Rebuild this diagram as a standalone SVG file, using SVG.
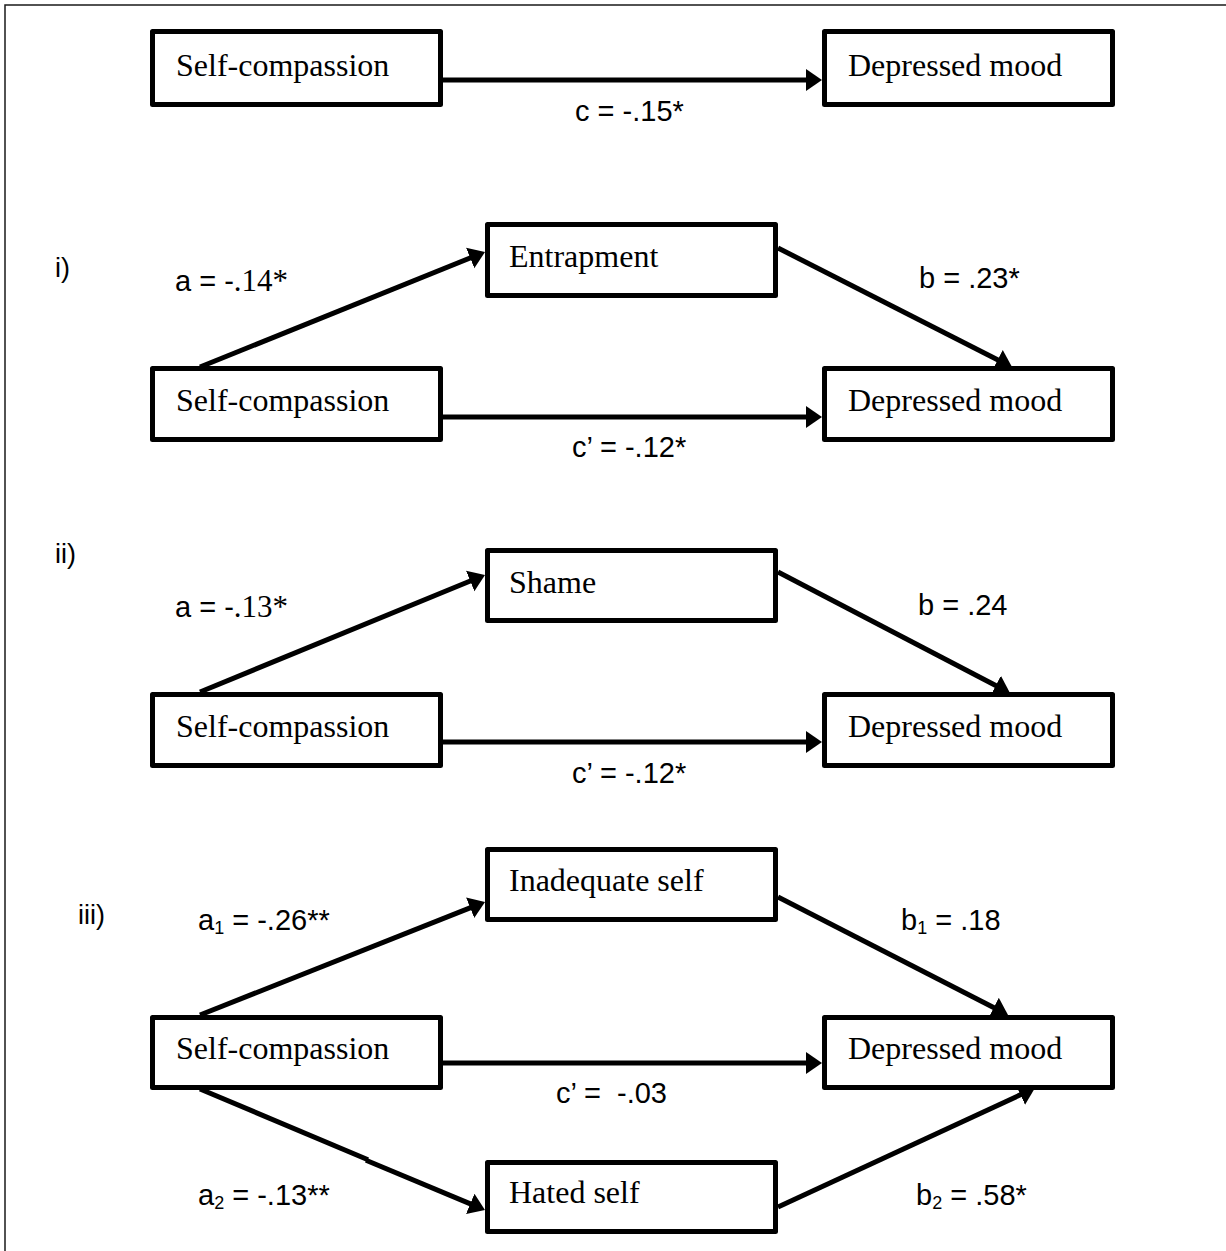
<svg xmlns="http://www.w3.org/2000/svg" width="1226" height="1251" viewBox="0 0 1226 1251">
  <style>
    .box { fill: #ffffff; stroke: #000000; stroke-width: 5; stroke-linejoin: round; }
    .name { font-family: "Liberation Serif", "Times New Roman", serif; font-size: 32px; fill: #000000; }
    .coef { font-family: "Liberation Sans", Arial, sans-serif; font-size: 29px; fill: #000000; }
    .serifnum { font-family: "Liberation Serif", "Times New Roman", serif; font-size: 31px; }
    .sub { font-size: 18px; }
    .panel { font-family: "Liberation Sans", Arial, sans-serif; font-size: 27px; fill: #000000; }
    .edge { stroke: #000000; stroke-width: 5; fill: none; marker-end: url(#head); }
    .plain { stroke: #000000; stroke-width: 5; fill: none; }
  </style>
  <defs>
    <marker id="head" markerUnits="userSpaceOnUse" markerWidth="20" markerHeight="26" refX="8" refY="12" orient="auto">
      <path d="M0,1 L16,12 L0,23 z" fill="#000000"/>
    </marker>
  </defs>

  <rect width="1226" height="1251" fill="#ffffff"/>
  <!-- outer frame -->
  <path d="M5,1251 V5 H1226" fill="none" stroke="#1a1a1a" stroke-width="1.5"/>

  <!-- connectors -->
  <g id="connectors">
    <!-- total effect -->
    <line class="edge" x1="443" y1="80" x2="814" y2="80"/>
    <!-- model i -->
    <line class="edge" x1="200" y1="367" x2="477.6" y2="255"/>
    <line class="edge" x1="778" y1="248" x2="1004.9" y2="363.4"/>
    <line class="edge" x1="443" y1="417" x2="814" y2="417"/>
    <!-- model ii -->
    <line class="edge" x1="200" y1="692" x2="477.6" y2="578"/>
    <line class="edge" x1="778" y1="572" x2="1002.9" y2="689.3"/>
    <line class="edge" x1="443" y1="742" x2="814" y2="742"/>
    <!-- model iii -->
    <line class="edge" x1="200" y1="1015" x2="477.6" y2="904.9"/>
    <line class="edge" x1="778" y1="897" x2="1000.9" y2="1011.3"/>
    <line class="edge" x1="443" y1="1063" x2="814" y2="1063"/>
    <line class="plain" x1="200" y1="1089" x2="368" y2="1159.7"/>
    <line class="edge" x1="366" y1="1160.3" x2="477.6" y2="1206.9"/>
    <line class="edge" x1="778" y1="1207" x2="1027.7" y2="1091.4"/>
  </g>

  <!-- total effect -->
  <g id="sc0"><rect class="box" x="152.5" y="31.5" width="288" height="73"/><text class="name" x="176" y="76">Self-compassion</text></g>
  <g id="dm0"><rect class="box" x="824.5" y="31.5" width="288" height="73"/><text class="name" x="848" y="76">Depressed mood</text></g>
  <text class="coef" x="575" y="121">c = -.15*</text>

  <!-- model i -->
  <text class="panel" x="55" y="277">i)</text>
  <g id="ent"><rect class="box" x="487.5" y="224.5" width="288" height="71"/><text class="name" x="509" y="267">Entrapment</text></g>
  <g id="sc1"><rect class="box" x="152.5" y="368.5" width="288" height="71"/><text class="name" x="176" y="411">Self-compassion</text></g>
  <g id="dm1"><rect class="box" x="824.5" y="368.5" width="288" height="71"/><text class="name" x="848" y="411">Depressed mood</text></g>
  <text class="coef" x="175" y="291">a = -<tspan class="serifnum">.14*</tspan></text>
  <text class="coef" x="919" y="288">b = .23*</text>
  <text class="coef" x="572" y="457">c’ = -.12*</text>

  <!-- model ii -->
  <text class="panel" x="55" y="563">ii)</text>
  <g id="shame"><rect class="box" x="487.5" y="550.5" width="288" height="70"/><text class="name" x="509" y="593">Shame</text></g>
  <g id="sc2"><rect class="box" x="152.5" y="694.5" width="288" height="71"/><text class="name" x="176" y="737">Self-compassion</text></g>
  <g id="dm2"><rect class="box" x="824.5" y="694.5" width="288" height="71"/><text class="name" x="848" y="737">Depressed mood</text></g>
  <text class="coef" x="175" y="617">a = -<tspan class="serifnum">.13*</tspan></text>
  <text class="coef" x="918" y="615">b = .24</text>
  <text class="coef" x="572" y="783">c’ = -.12*</text>

  <!-- model iii -->
  <text class="panel" x="78" y="924">iii)</text>
  <g id="inadequate"><rect class="box" x="487.5" y="849.5" width="288" height="70"/><text class="name" x="509" y="891">Inadequate self</text></g>
  <g id="sc3"><rect class="box" x="152.5" y="1017.5" width="288" height="70"/><text class="name" x="176" y="1059">Self-compassion</text></g>
  <g id="dm3"><rect class="box" x="824.5" y="1017.5" width="288" height="70"/><text class="name" x="848" y="1059">Depressed mood</text></g>
  <g id="hated"><rect class="box" x="487.5" y="1162.5" width="288" height="69"/><text class="name" x="509" y="1203">Hated self</text></g>
  <text class="coef" x="198" y="930">a<tspan class="sub" dy="4">1</tspan><tspan dy="-4"> = -.26**</tspan></text>
  <text class="coef" x="901" y="930">b<tspan class="sub" dy="4">1</tspan><tspan dy="-4"> = .18</tspan></text>
  <text class="coef" x="556" y="1103" xml:space="preserve">c’ =  -.03</text>
  <text class="coef" x="198" y="1205">a<tspan class="sub" dy="4">2</tspan><tspan dy="-4"> = -.13**</tspan></text>
  <text class="coef" x="916" y="1205">b<tspan class="sub" dy="4">2</tspan><tspan dy="-4"> = .58*</tspan></text>
</svg>
